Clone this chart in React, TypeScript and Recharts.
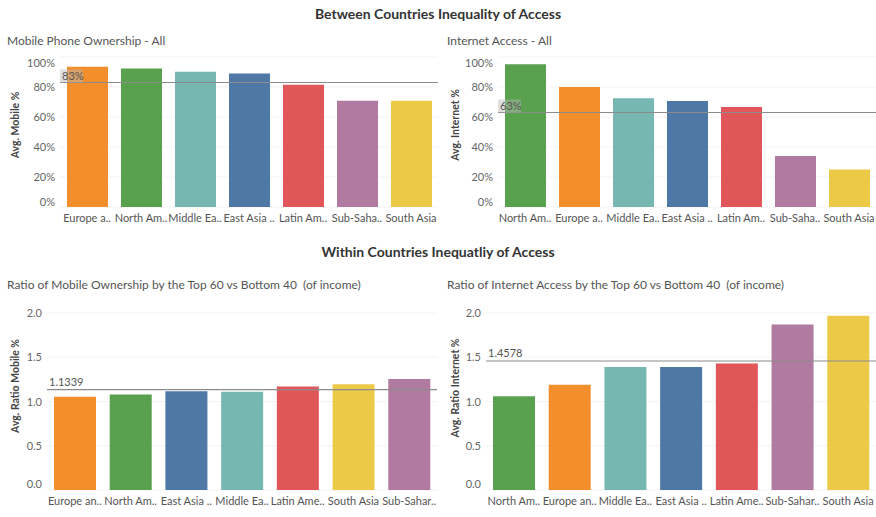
import React from 'react';
import { BarChart, Bar, XAxis, YAxis, CartesianGrid, ReferenceLine, Cell } from 'recharts';

// Tableau 10 colours, one per region
const REGION_COLORS: Record<string, string> = {
  europe: '#F28E2B',
  northAm: '#59A14F',
  middleEast: '#76B7B2',
  eastAsia: '#4E79A7',
  latinAm: '#E15759',
  subSahara: '#B07AA1',
  southAsia: '#EDC948',
};

// Mobile phone ownership - all
const mobileAllKeys = ['europe', 'northAm', 'middleEast', 'eastAsia', 'latinAm', 'subSahara', 'southAsia'];
const mobileAllLabels = ['Europe a..', 'North Am..', 'Middle Ea..', 'East Asia ..', 'Latin Am..', 'Sub-Saha..', 'South Asia'];
const mobileAllValues = [93.5, 92.3, 90.2, 89.0, 81.5, 70.8, 70.8];
const mobileAllAvg = 83;

// Internet access - all
const internetAllKeys = ['northAm', 'europe', 'middleEast', 'eastAsia', 'latinAm', 'subSahara', 'southAsia'];
const internetAllLabels = ['North Am..', 'Europe a..', 'Middle Ea..', 'East Asia ..', 'Latin Am..', 'Sub-Saha..', 'South Asia'];
const internetAllValues = [95.2, 80.0, 72.5, 70.7, 66.7, 34.0, 25.0];
const internetAllAvg = 63;

// Ratio top 60 vs bottom 40 - mobile
const mobileRatioKeys = ['europe', 'northAm', 'eastAsia', 'middleEast', 'latinAm', 'southAsia', 'subSahara'];
const mobileRatioLabels = ['Europe an..', 'North Am..', 'East Asia ..', 'Middle Ea..', 'Latin Ame..', 'South Asia', 'Sub-Sahar..'];
const mobileRatioValues = [1.055, 1.08, 1.115, 1.11, 1.17, 1.195, 1.255];
const mobileRatioAvg = 1.1339;

// Ratio top 60 vs bottom 40 - internet
const internetRatioKeys = ['northAm', 'europe', 'middleEast', 'eastAsia', 'latinAm', 'subSahara', 'southAsia'];
const internetRatioLabels = ['North Am..', 'Europe an..', 'Middle Ea..', 'East Asia ..', 'Latin Ame..', 'Sub-Sahar..', 'South Asia'];
const internetRatioValues = [1.06, 1.19, 1.39, 1.39, 1.43, 1.87, 1.97];
const internetRatioAvg = 1.4578;

const pctTicks = [0, 20, 40, 60, 80, 100];
const ratioTicks = [0, 0.5, 1.0, 1.5, 2.0];

const FONT = 'Lato, "Open Sans", sans-serif';

const makeYTick = (fmt: (v: number) => string, max: number, topShift: number, bottomShift: number) =>
  (props: any) => {
    const { x, y, payload } = props;
    let dy = 4;
    if (payload.value === max) dy += topShift;
    if (payload.value === 0) dy -= bottomShift;
    return (
      <text x={x} y={y} dy={dy} textAnchor="end" fill="#666" fontSize={11} fontFamily={FONT}>
        {fmt(payload.value)}
      </text>
    );
  };

const boxedLabel = (text: string) => (props: any) => {
  const { viewBox } = props;
  return (
    <g>
      <rect x={viewBox.x} y={viewBox.y - 13} width={23} height={13} fill="rgba(185,185,185,0.45)" />
      <text x={viewBox.x + 2} y={viewBox.y - 3} fill="#555" fontSize={11} fontFamily={FONT}>{text}</text>
    </g>
  );
};

const plainLabel = (text: string) => (props: any) => {
  const { viewBox } = props;
  return (
    <text x={viewBox.x + 2} y={viewBox.y - 4} fill="#555" fontSize={11} fontFamily={FONT}>{text}</text>
  );
};

interface PanelProps {
  left: number;
  top: number;
  width: number;
  height: number;
  keys: string[];
  labels: string[];
  values: number[];
  avg: number;
  ticks: number[];
  fmt: (v: number) => string;
  refLabel: (props: any) => React.ReactElement;
  margin: { top: number; right: number; bottom: number; left: number };
  yAxisWidth: number;
  barSize: number;
  topShift: number;
  bottomShift: number;
}

const Panel: React.FC<PanelProps> = (p) => {
  const data = p.labels.map((label, i) => ({ label, value: p.values[i], key: p.keys[i] }));
  const max = p.ticks[p.ticks.length - 1];
  return (
    <div style={{ position: 'absolute', left: p.left, top: p.top }}>
      <BarChart width={p.width} height={p.height} data={data} margin={p.margin}>
        <CartesianGrid vertical={false} stroke="#f3f3f3" />
        <XAxis
          dataKey="label"
          axisLine={false}
          tickLine={false}
          tickSize={3}
          tickMargin={4}
          height={20}
          interval={0}
          tick={{ fontSize: 11, fill: '#555', fontFamily: FONT }}
        />
        <YAxis
          type="number"
          domain={[0, max]}
          ticks={p.ticks}
          width={p.yAxisWidth}
          axisLine={false}
          tickLine={false}
          tick={makeYTick(p.fmt, max, p.topShift, p.bottomShift)}
          tickSize={0}
          tickMargin={5}
        />
        <Bar dataKey="value" barSize={p.barSize} isAnimationActive={false}>
          {data.map((d, i) => (
            <Cell key={`cell-${i}`} fill={REGION_COLORS[d.key]} />
          ))}
        </Bar>
        <ReferenceLine y={p.avg} stroke="#8c8c8c" strokeWidth={1.2} label={p.refLabel} />
      </BarChart>
    </div>
  );
};

const sectionTitle: React.CSSProperties = {
  position: 'absolute',
  left: 0,
  width: 876,
  textAlign: 'center',
  fontFamily: FONT,
  fontWeight: 700,
  fontSize: 14,
  color: '#333',
};

const chartTitle: React.CSSProperties = {
  position: 'absolute',
  fontFamily: FONT,
  fontSize: 12,
  color: '#555',
  whiteSpace: 'pre',
};

const yTitle = (x: number, y: number): React.CSSProperties => ({
  position: 'absolute',
  left: x,
  top: y,
  transform: 'translate(-50%, -50%) rotate(-90deg)',
  fontFamily: FONT,
  fontSize: 10.5,
  fontWeight: 700,
  color: '#444',
  whiteSpace: 'nowrap',
});

const pctFmt = (v: number) => `${v}%`;
const ratioFmt = (v: number) => v.toFixed(1);

export default function App() {
  return (
    <div style={{ position: 'absolute', left: 0, top: 0, width: 876, height: 517, background: '#fff', overflow: 'hidden' }}>
      <div style={{ ...sectionTitle, top: 5 }}>Between Countries Inequality of Access</div>
      <div style={{ ...sectionTitle, top: 243 }}>Within Countries Inequatliy of Access</div>

      <div style={{ ...chartTitle, left: 7, top: 33 }}>Mobile Phone Ownership - All</div>
      <div style={{ ...chartTitle, left: 447, top: 33 }}>Internet Access - All</div>
      <div style={{ ...chartTitle, left: 7, top: 277 }}>Ratio of Mobile Ownership by the Top 60 vs Bottom 40  (of income)</div>
      <div style={{ ...chartTitle, left: 447, top: 277 }}>Ratio of Internet Access by the Top 60 vs Bottom 40  (of income)</div>

      <div style={yTitle(15, 125)}>Avg. Mobile %</div>
      <div style={yTitle(455, 125)}>Avg. Internet %</div>
      <div style={yTitle(15, 386)}>Avg. Ratio Mobile %</div>
      <div style={yTitle(455, 388)}>Avg. Ratio Internet %</div>

      <Panel
        left={0} top={45} width={440} height={185}
        keys={mobileAllKeys} labels={mobileAllLabels} values={mobileAllValues} avg={mobileAllAvg}
        ticks={pctTicks} fmt={pctFmt} refLabel={boxedLabel(`${mobileAllAvg}%`)}
        margin={{ top: 12, right: 2, bottom: 3, left: 5 }} yAxisWidth={55} barSize={41}
        topShift={6} bottomShift={5}
      />
      <Panel
        left={440} top={45} width={436} height={185}
        keys={internetAllKeys} labels={internetAllLabels} values={internetAllValues} avg={internetAllAvg}
        ticks={pctTicks} fmt={pctFmt} refLabel={boxedLabel(`${internetAllAvg}%`)}
        margin={{ top: 12, right: 0, bottom: 3, left: 5 }} yAxisWidth={53} barSize={41}
        topShift={6} bottomShift={5}
      />
      <Panel
        left={0} top={295} width={440} height={220}
        keys={mobileRatioKeys} labels={mobileRatioLabels} values={mobileRatioValues} avg={mobileRatioAvg}
        ticks={ratioTicks} fmt={ratioFmt} refLabel={plainLabel(`${mobileRatioAvg}`)}
        margin={{ top: 18, right: 3, bottom: 5, left: 5 }} yAxisWidth={42} barSize={42}
        topShift={0} bottomShift={6}
      />
      <Panel
        left={440} top={295} width={436} height={220}
        keys={internetRatioKeys} labels={internetRatioLabels} values={internetRatioValues} avg={internetRatioAvg}
        ticks={ratioTicks} fmt={ratioFmt} refLabel={plainLabel(`${internetRatioAvg}`)}
        margin={{ top: 18, right: 0, bottom: 5, left: 5 }} yAxisWidth={41} barSize={42}
        topShift={0} bottomShift={6}
      />
    </div>
  );
}
